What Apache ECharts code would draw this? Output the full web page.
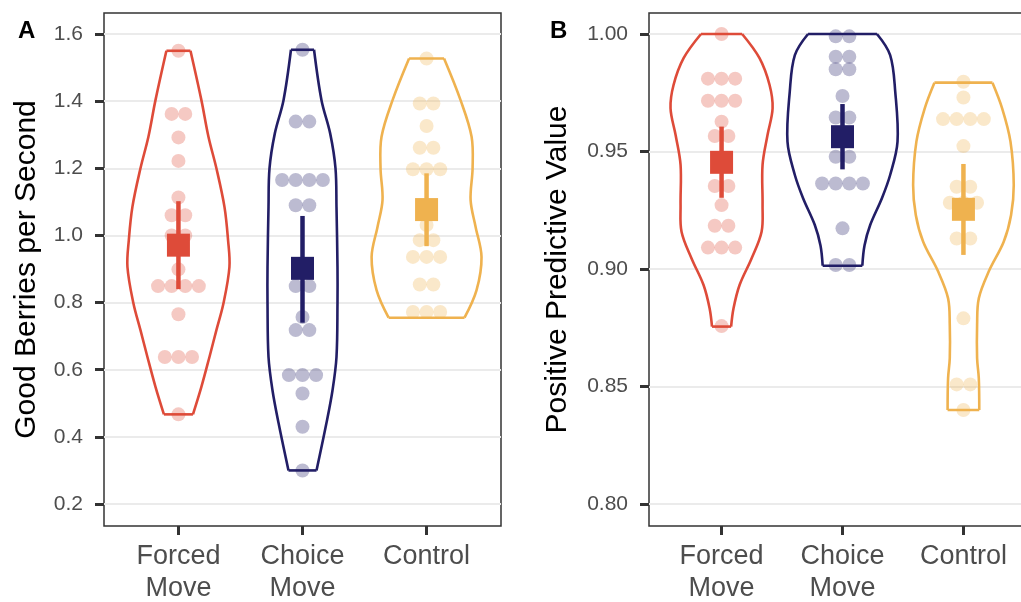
<!DOCTYPE html>
<html>
<head>
    <meta charset="utf-8">
    <title>Berries violin plots</title>
    <style type="text/css">
        html, body { margin: 0; padding: 0; background: #fff; }
        #main { width: 1021px; height: 602px; }
    </style>
</head>
<body>
<div id="main"></div>
<script src="https://cdn.jsdelivr.net/npm/echarts@6/dist/echarts.min.js"></script>
<script>
    // groups on the x axis
    var groups = ['Forced\nMove', 'Choice\nMove', 'Control'];
    var colors = ['#de4b39', '#221e66', '#efb24f'];

    // panel A: good berries per second, one value per dot
    var berriesForced = [1.55, 1.362, 1.362, 1.292, 1.222, 1.113, 1.06, 1.06, 1.0, 1.0,
        0.899, 0.849, 0.849, 0.849, 0.849, 0.765, 0.638, 0.638, 0.638, 0.467];
    var berriesChoice = [1.553, 1.339, 1.339, 1.165, 1.165, 1.165, 1.165, 1.09, 1.09,
        0.849, 0.849, 0.757, 0.718, 0.718, 0.584, 0.584, 0.584, 0.529, 0.43, 0.30];
    var berriesControl = [1.527, 1.393, 1.393, 1.326, 1.261, 1.261, 1.197, 1.197, 1.197,
        1.031, 0.986, 0.986, 0.936, 0.936, 0.936, 0.854, 0.854, 0.772, 0.772, 0.772];
    // mean and error bar ends
    var berriesMean = [0.971, 0.902, 1.077];
    var berriesLow = [0.840, 0.740, 0.968];
    var berriesHigh = [1.102, 1.058, 1.185];
    var berriesTicks = [0.2, 0.4, 0.6, 0.8, 1.0, 1.2, 1.4, 1.6];
    // violin outlines: [value, half width in group units], top to bottom
    var berriesForcedViolin = [[1.55, 0.097], [1.403, 0.185], [1.294, 0.242], [1.2, 0.306], [1.085, 0.371],
        [0.986, 0.40], [0.906, 0.411], [0.798, 0.363], [0.718, 0.306], [0.638, 0.25], [0.549, 0.185], [0.467, 0.117]];
    var berriesChoiceViolin = [[1.553, 0.093], [1.403, 0.153], [1.304, 0.223], [1.2, 0.266], [1.085, 0.274],
        [0.906, 0.282], [0.798, 0.282], [0.638, 0.274], [0.539, 0.242], [0.441, 0.193], [0.30, 0.113]];
    var berriesControlViolin = [[1.527, 0.141], [1.403, 0.274], [1.294, 0.363], [1.2, 0.371], [1.105, 0.355],
        [1.026, 0.395], [0.936, 0.443], [0.837, 0.403], [0.755, 0.306]];

    // panel B: positive predictive value
    var ppvForced = [1.0, 0.981, 0.981, 0.981, 0.9716, 0.9716, 0.9716, 0.9627, 0.9566, 0.9566,
        0.945, 0.9353, 0.9353, 0.9272, 0.9184, 0.9184, 0.9091, 0.9091, 0.9091, 0.8757];
    var ppvChoice = [0.999, 0.999, 0.9903, 0.9903, 0.985, 0.985, 0.9736, 0.9645, 0.9645,
        0.9478, 0.9478, 0.9364, 0.9364, 0.9364, 0.9364, 0.9173, 0.9017, 0.9017];
    var ppvControl = [0.9797, 0.973, 0.9638, 0.9638, 0.9638, 0.9638, 0.9523, 0.935, 0.935,
        0.9282, 0.9282, 0.9282, 0.913, 0.913, 0.879, 0.8509, 0.8509, 0.84];
    var ppvMean = [0.9454, 0.9563, 0.9254];
    var ppvLow = [0.9303, 0.9424, 0.906];
    var ppvHigh = [0.9606, 0.9702, 0.9447];
    var ppvTicks = [0.80, 0.85, 0.90, 0.95, 1.00];
    var ppvForcedViolin = [[1.0, 0.170], [0.9897, 0.314], [0.9783, 0.397], [0.9684, 0.422], [0.957, 0.38],
        [0.9443, 0.339], [0.9272, 0.339], [0.9159, 0.331], [0.9045, 0.248], [0.8932, 0.149], [0.8833, 0.099], [0.8755, 0.079]];
    var ppvChoiceViolin = [[1.0, 0.285], [0.991, 0.394], [0.9755, 0.436], [0.9542, 0.455], [0.94, 0.394],
        [0.930, 0.325], [0.9187, 0.229], [0.910, 0.182], [0.9014, 0.164]];
    var ppvControlViolin = [[0.9793, 0.240], [0.9684, 0.320], [0.9542, 0.389], [0.9357, 0.416], [0.923, 0.394],
        [0.9116, 0.333], [0.8989, 0.209], [0.8875, 0.127], [0.8762, 0.113], [0.862, 0.113], [0.8535, 0.127], [0.84, 0.131]];

    var font = 'Liberation Sans';

    // dots stacked sideways when they share a value
    function dotItems(sets) {
        var items = [];
        sets.forEach(function (vals, g) {
            var counts = {};
            vals.forEach(function (v) { counts[v] = (counts[v] || 0) + 1; });
            var seen = {};
            vals.forEach(function (v) {
                var j = seen[v] || 0;
                seen[v] = j + 1;
                items.push([g + 1, v, j - (counts[v] - 1) / 2, g]);
            });
        });
        return items;
    }

    function violinSeries(gi, outlines) {
        return {
            type: 'custom', xAxisIndex: gi, yAxisIndex: gi, z: 2,
            data: [[1, 0], [2, 1], [3, 2]],
            renderItem: function (params, api) {
                var g = api.value(1), p = outlines[g];
                var unit = api.size([1, 0])[0];
                var right = [], left = [];
                p.forEach(function (pt) {
                    var c = api.coord([api.value(0), pt[0]]);
                    right.push([c[0] + pt[1] * unit, c[1]]);
                    left.push([c[0] - pt[1] * unit, c[1]]);
                });
                var st = { fill: 'none', stroke: colors[g], lineWidth: 2.6, lineJoin: 'round' };
                var last = p.length - 1;
                return {
                    type: 'group',
                    children: [
                        { type: 'polyline', shape: { points: right, smooth: 0.35 }, style: st },
                        { type: 'polyline', shape: { points: left, smooth: 0.35 }, style: st },
                        { type: 'line', shape: { x1: left[0][0], y1: left[0][1], x2: right[0][0], y2: right[0][1] }, style: st },
                        { type: 'line', shape: { x1: left[last][0], y1: left[last][1], x2: right[last][0], y2: right[last][1] }, style: st }
                    ]
                };
            }
        };
    }

    function dotSeries(gi, items) {
        return {
            type: 'custom', xAxisIndex: gi, yAxisIndex: gi, z: 3,
            data: items,
            renderItem: function (params, api) {
                var c = api.coord([api.value(0), api.value(1)]);
                return {
                    type: 'circle',
                    shape: { cx: c[0] + api.value(2) * 13.6, cy: c[1], r: 7 },
                    style: { fill: colors[api.value(3)], opacity: 0.3 }
                };
            }
        };
    }

    function meanSeries(gi, mean, low, high) {
        return {
            type: 'custom', xAxisIndex: gi, yAxisIndex: gi, z: 4,
            data: mean.map(function (m, i) { return [i + 1, m, low[i], high[i], i]; }),
            renderItem: function (params, api) {
                var c = api.coord([api.value(0), api.value(1)]);
                var lo = api.coord([api.value(0), api.value(2)]);
                var hi = api.coord([api.value(0), api.value(3)]);
                var col = colors[api.value(4)];
                return {
                    type: 'group',
                    children: [{
                        type: 'line',
                        shape: { x1: c[0], y1: lo[1], x2: c[0], y2: hi[1] },
                        style: { stroke: col, lineWidth: 4.5 }
                    }, {
                        type: 'rect',
                        shape: { x: c[0] - 11.5, y: c[1] - 11.5, width: 23, height: 23 },
                        style: { fill: col }
                    }]
                };
            }
        };
    }

    function xAxis(gi) {
        return {
            type: 'value', gridIndex: gi, min: 0.4, max: 3.6,
            axisLine: { show: false },
            splitLine: { show: false },
            axisTick: { customValues: [1, 2, 3], length: 9, lineStyle: { color: '#333', width: 3 } },
            axisLabel: {
                customValues: [1, 2, 3], margin: 15,
                formatter: function (v) { return groups[Math.round(v) - 1]; },
                fontFamily: font, fontSize: 27, lineHeight: 32, color: '#4d4d4d'
            }
        };
    }

    function yAxis(gi, min, max, ticks, digits, name, gap) {
        return {
            type: 'value', gridIndex: gi, min: min, max: max,
            name: name, nameLocation: 'middle', nameGap: gap,
            nameTextStyle: { fontFamily: font, fontSize: 30, color: '#000' },
            axisLine: { show: false },
            axisTick: { customValues: ticks, length: 9, lineStyle: { color: '#333', width: 3 } },
            axisLabel: {
                customValues: ticks, margin: 21,
                formatter: function (v) { return v.toFixed(digits); },
                fontFamily: font, fontSize: 21, color: '#4d4d4d'
            },
            splitLine: { show: true, lineStyle: { color: '#ebebeb', width: 2 } }
        };
    }

    var myChart = echarts.init(document.getElementById('main'), null, { renderer: 'canvas' });
    var option = {
        animation: false,
        backgroundColor: '#fff',
        grid: [
            { left: 104, top: 13, width: 397, height: 513, show: true, borderColor: '#333', borderWidth: 1.5, backgroundColor: 'transparent', outerBoundsMode: 'none' },
            { left: 649, top: 13, width: 387, height: 513, show: true, borderColor: '#333', borderWidth: 1.5, backgroundColor: 'transparent', outerBoundsMode: 'none' }
        ],
        xAxis: [xAxis(0), xAxis(1)],
        yAxis: [
            yAxis(0, 0.13447, 1.66255, berriesTicks, 1, 'Good Berries per Second', 62),
            yAxis(1, 0.79064, 1.00894, ppvTicks, 2, 'Positive Predictive Value', 76)
        ],
        graphic: [
            { type: 'text', left: 18, top: 19, style: { text: 'A', fontFamily: font, fontSize: 24, fontWeight: 'bold', fill: '#000' } },
            { type: 'text', left: 550, top: 19, style: { text: 'B', fontFamily: font, fontSize: 24, fontWeight: 'bold', fill: '#000' } }
        ],
        series: [
            violinSeries(0, [berriesForcedViolin, berriesChoiceViolin, berriesControlViolin]),
            dotSeries(0, dotItems([berriesForced, berriesChoice, berriesControl])),
            meanSeries(0, berriesMean, berriesLow, berriesHigh),
            violinSeries(1, [ppvForcedViolin, ppvChoiceViolin, ppvControlViolin]),
            dotSeries(1, dotItems([ppvForced, ppvChoice, ppvControl])),
            meanSeries(1, ppvMean, ppvLow, ppvHigh)
        ]
    };
    myChart.setOption(option);
</script>
</body>
</html>
